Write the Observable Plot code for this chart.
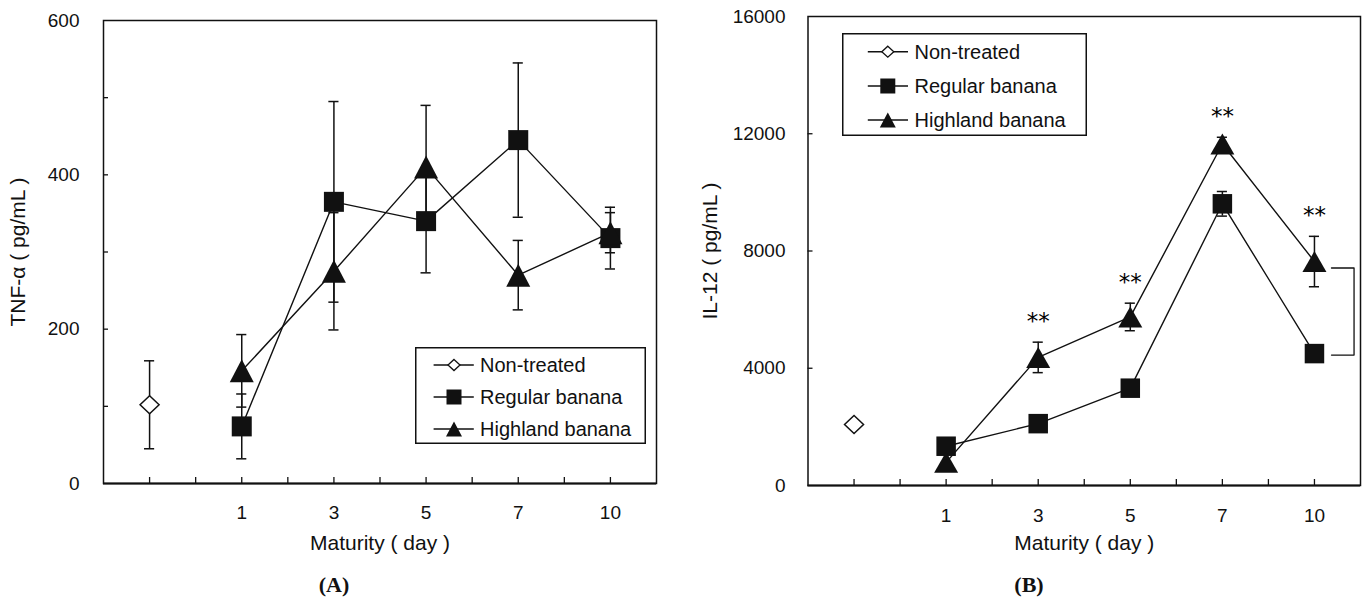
<!DOCTYPE html>
<html><head><meta charset="utf-8">
<script src="https://cdn.jsdelivr.net/npm/d3@7"></script>
<script src="https://cdn.jsdelivr.net/npm/@observablehq/plot@0.6"></script>
<style>
body{margin:0;background:#fff;}
#wrap{position:relative;width:1363px;height:600px;overflow:hidden;font-family:"Liberation Sans",Arial,sans-serif;}
.panel{position:absolute;top:0;}
.tag{position:absolute;font:bold 22px "Liberation Serif","Times New Roman",serif;transform:translate(-50%,-50%);color:#111;}
.legend{position:absolute;}
</style></head>
<body><div id="wrap"></div>
<script>
// ---- categories / tick labels ----
const slots = [0,1,2,3,4,5,6,7,8,9,10];
const dayPos = [2,4,6,8,10];
const dayLabels = ["1","3","5","7","10"];
const controlPos = 0;
const seriesNames = ["Non-treated", "Regular banana", "Highland banana"];

// ---- Panel A: TNF-α (pg/mL) ----
const tnfControl = 102, tnfControlErr = 57;
const tnfRegular = [74, 365, 340, 445, 318];
const tnfRegularErr = [42, 130, 67, 100, 40];
const tnfHighland = [146, 275, 410, 270, 325];
const tnfHighlandErr = [47, 76, 80, 45, 26];
const tnfTicks = [0, 200, 400, 600];
const tnfMinor = [100, 200, 300, 400, 500];

// ---- Panel B: IL-12 (pg/mL) ----
const il12Control = 2080, il12ControlErr = 0;
const il12Regular = [1340, 2110, 3320, 9610, 4500];
const il12RegularErr = [0, 0, 0, 420, 0];
const il12Highland = [790, 4370, 5750, 11650, 7640];
const il12HighlandErr = [0, 520, 470, 230, 860];
const il12Sig = [false, true, true, true, true];
const il12Ticks = [0, 4000, 8000, 12000, 16000];
const il12Minor = [4000, 8000, 12000];
const bracketX = [10.37, 10.86];
const bracketY = [7420, 4450];

const INK = "#111";
const CAP = 0.11;

// custom marker shapes (bbox centred)
const square = s => ({draw(ctx){ ctx.rect(-s/2, -s/2, s, s); }});
const triangle = (w, h) => ({draw(ctx){ ctx.moveTo(0, -h/2); ctx.lineTo(w/2, h/2); ctx.lineTo(-w/2, h/2); ctx.closePath(); }});
const diamond = (w, h) => ({draw(ctx){ ctx.moveTo(0, -h/2); ctx.lineTo(w/2, 0); ctx.lineTo(0, h/2); ctx.lineTo(-w/2, 0); ctx.closePath(); }});

function panel(o) {
  const ctrl = [{x: controlPos, y: o.ctrl, e: o.ctrlErr}];
  const reg = o.reg.map((y, i) => ({x: dayPos[i], y, e: o.regErr[i]}));
  const hl = o.hl.map((y, i) => ({x: dayPos[i], y, e: o.hlErr[i], sig: o.sig ? o.sig[i] : false}));
  const errs = [...ctrl, ...reg, ...hl].filter(d => d.e > 0);
  const marks = [
    Plot.frame({stroke: INK, strokeWidth: 1.5}),
    Plot.ruleY([0], {stroke: INK, strokeWidth: 2}),
    Plot.axisX({ticks: slots, tickSize: -6, tickFormat: () => "", stroke: INK, strokeWidth: 1.3}),
    Plot.axisX({ticks: dayPos, tickSize: 0, tickPadding: o.xPad, tickFormat: d => dayLabels[dayPos.indexOf(d)], fontSize: 19, fill: INK}),
    Plot.axisY({ticks: o.minor, tickSize: -5, tickFormat: () => "", stroke: INK, strokeWidth: 1.3}),
    Plot.axisY({ticks: o.ticks, tickSize: 0, tickPadding: o.yPad, tickFormat: d => String(d), fontSize: 19, fill: INK}),
    Plot.text([o.yTitle], {text: d => d, frameAnchor: "left", dx: o.yTitleDx, rotate: -90, textAnchor: "middle", lineAnchor: "middle", fontSize: 21, fill: INK}),
    Plot.text(["Maturity ( day )"], {text: d => d, frameAnchor: "bottom", dy: o.xTitleDy, textAnchor: "middle", lineAnchor: "middle", fontSize: 21, fill: INK}),
    Plot.line(reg, {x: "x", y: "y", stroke: INK, strokeWidth: 1.4}),
    Plot.line(hl, {x: "x", y: "y", stroke: INK, strokeWidth: 1.4}),
    Plot.ruleX(errs, {x: "x", y1: d => d.y - d.e, y2: d => d.y + d.e, stroke: INK, strokeWidth: 1.5}),
    Plot.ruleY(errs, {y: d => d.y + d.e, x1: d => d.x - CAP, x2: d => d.x + CAP, stroke: INK, strokeWidth: 1.5}),
    Plot.ruleY(errs, {y: d => d.y - d.e, x1: d => d.x - CAP, x2: d => d.x + CAP, stroke: INK, strokeWidth: 1.5}),
    Plot.dot(ctrl, {x: "x", y: "y", symbol: diamond(19, 18), r: 9, fill: "white", stroke: INK, strokeWidth: 1.5}),
    Plot.dot(reg, {x: "x", y: "y", symbol: square(o.sq), r: 9, fill: INK, stroke: "none"}),
    Plot.dot(hl, {x: "x", y: "y", symbol: triangle(o.triW, o.triH), r: 9, fill: INK, stroke: "none"})
  ];
  if (o.sig) {
    marks.push(Plot.text(hl.filter(d => d.sig), {x: "x", y: d => d.y + d.e, text: () => "**", dy: -21, fontSize: 23, fontFamily: "DejaVu Sans", fill: "#000"}));
  }
  if (o.bracket) {
    const pts = [
      {x: bracketX[0], y: bracketY[0]}, {x: bracketX[1], y: bracketY[0]},
      {x: bracketX[1], y: bracketY[1]}, {x: bracketX[0], y: bracketY[1]}
    ];
    marks.push(Plot.line(pts, {x: "x", y: "y", stroke: INK, strokeWidth: 1.3}));
  }
  return Plot.plot({
    width: o.width, height: 560,
    marginLeft: o.ml, marginRight: o.mr, marginTop: o.mt, marginBottom: o.mb,
    style: {fontFamily: "Liberation Sans, Arial, sans-serif", background: "transparent", overflow: "visible"},
    x: {domain: [-1, 11], label: null},
    y: {domain: o.yDomain, label: null},
    marks
  });
}

const wrap = document.getElementById("wrap");

const A = panel({
  width: 680, ml: 103, mr: 24, mt: 20, mb: 77,
  yDomain: [0, 600], ticks: tnfTicks, minor: tnfMinor, yPad: 24, xPad: 22,
  ctrl: tnfControl, ctrlErr: tnfControlErr, reg: tnfRegular, regErr: tnfRegularErr,
  hl: tnfHighland, hlErr: tnfHighlandErr, sq: 20, triW: 24, triH: 23,
  yTitle: "TNF-α ( pg/mL )", yTitleDx: -85, xTitleDy: 60
});
A.classList.add("panel"); A.style.left = "0px";
wrap.appendChild(A);

const B = panel({
  width: 683, ml: 127.5, mr: 3, mt: 16, mb: 75,
  yDomain: [0, 16000], ticks: il12Ticks, minor: il12Minor, yPad: 22.5, xPad: 23,
  ctrl: il12Control, ctrlErr: il12ControlErr, reg: il12Regular, regErr: il12RegularErr,
  hl: il12Highland, hlErr: il12HighlandErr, sq: 19.5, triW: 24, triH: 21,
  sig: il12Sig, bracket: true,
  yTitle: "IL-12 ( pg/mL )", yTitleDx: -97.5, xTitleDy: 58
});
B.classList.add("panel"); B.style.left = "680px";
wrap.appendChild(B);

// panel tags
[["(A)", 334, 585], ["(B)", 1029, 585]].forEach(([t, x, y]) => {
  const d = document.createElement("div");
  d.className = "tag"; d.textContent = t;
  d.style.left = x + "px"; d.style.top = y + "px";
  wrap.appendChild(d);
});

// legends
const legendSymbols = [
  {shape: diamond(12, 11), fill: "white"},
  {shape: square(15), fill: INK},
  {shape: triangle(16, 15), fill: INK}
];
function legend(left, top, w, h, rows, lx1, lx2, mx, tx) {
  const svg = d3.create("svg").attr("class", "legend").attr("width", w).attr("height", h)
    .style("left", left + "px").style("top", top + "px");
  svg.append("rect").attr("x", 0.75).attr("y", 0.75).attr("width", w - 1.5).attr("height", h - 1.5)
    .attr("fill", "white").attr("stroke", INK).attr("stroke-width", 1.5);
  seriesNames.forEach((name, i) => {
    const y = rows[i];
    svg.append("line").attr("x1", lx1).attr("x2", lx2).attr("y1", y).attr("y2", y)
      .attr("stroke", INK).attr("stroke-width", 1.4);
    const p = d3.path(); legendSymbols[i].shape.draw(p);
    svg.append("path").attr("d", p.toString()).attr("transform", `translate(${mx},${y})`)
      .attr("fill", legendSymbols[i].fill).attr("stroke", i === 0 ? INK : "none").attr("stroke-width", 1.3);
    svg.append("text").attr("x", tx).attr("y", y).attr("dy", "0.35em")
      .attr("font-family", "Liberation Sans, Arial, sans-serif").attr("font-size", 20).attr("fill", INK)
      .text(name);
  });
  wrap.appendChild(svg.node());
}
legend(415, 347, 231, 97, [18, 50, 82], 18.6, 58.8, 39, 65);
legend(842, 33, 245, 103, [18.7, 53, 87], 25.8, 66, 45.8, 72.5);
</script>
</body></html>
